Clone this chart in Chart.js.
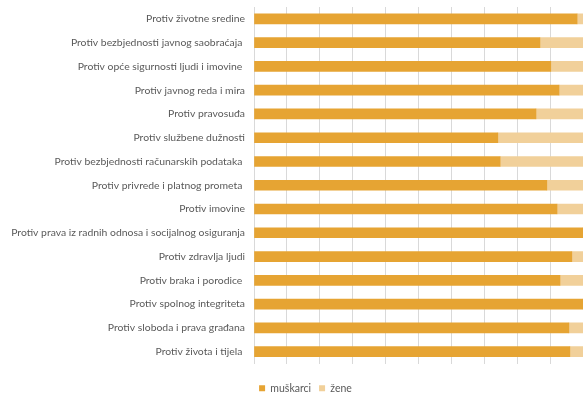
<!DOCTYPE html>
<html>
<head>
<meta charset="utf-8">
<script src="https://cdn.jsdelivr.net/npm/chart.js@4"></script>
<style>
    html, body { margin: 0; padding: 0; background: #fff; }
    #wrap { width: 583px; height: 393px; }
</style>
</head>
<body>
<div id="wrap"><canvas id="myChart"></canvas></div>
<script>
const categories = [
    'Protiv životne sredine',
    'Protiv bezbjednosti javnog saobraćaja ',
    'Protiv opće sigurnosti ljudi i imovine ',
    'Protiv javnog reda i mira',
    'Protiv pravosuđa',
    'Protiv službene dužnosti',
    'Protiv bezbjednosti računarskih podataka ',
    'Protiv privrede i platnog prometa ',
    'Protiv imovine',
    'Protiv prava iz radnih odnosa i socijalnog osiguranja',
    'Protiv zdravlja ljudi',
    'Protiv braka i porodice ',
    'Protiv spolnog integriteta',
    'Protiv sloboda i prava građana',
    'Protiv života i tijela '
];
const muskarci = [98.2, 86.9, 90.2, 92.7, 85.7, 74.1, 74.8, 89.0, 92.1, 100, 96.6, 93.0, 100, 95.7, 96.0];
const zene = muskarci.map(v => +(100 - v).toFixed(1)); // udio žena = ostatak do 100%

const data = {
    labels: categories,
    datasets: [
        {
            label: 'muškarci',
            data: muskarci,
            backgroundColor: '#E6A433',
            barThickness: 10
        },
        {
            label: 'žene',
            data: zene,
            backgroundColor: '#F1D09A',
            barThickness: 10
        }
    ]
};

// legenda je u originalu malo desno od sredine
const pomakLegende = {
    id: 'pomakLegende',
    afterLayout(chart) {
        chart.legend.left += 14;
        chart.legend.right += 14;
    }
};

const config = {
    type: 'bar',
    data: data,
    plugins: [pomakLegende],
    options: {
        indexAxis: 'y',
        responsive: true,
        maintainAspectRatio: false,
        animation: false,
        layout: {
            padding: { top: 7, right: 0, left: 0, bottom: -10.5 }
        },
        plugins: {
            legend: {
                position: 'bottom',
                labels: {
                    boxWidth: 6,
                    boxHeight: 6,
                    padding: 8,
                    color: '#595959',
                    font: { family: 'Lato', size: 10.5 }
                }
            },
            tooltip: { enabled: false }
        },
        scales: {
            x: {
                stacked: true,
                min: 0,
                max: 100,
                afterFit: function (scale) { scale.height = 11.5; },
                ticks: { display: false, stepSize: 10 },
                grid: { color: '#d9d9d9', drawTicks: false },
                border: { display: false }
            },
            y: {
                stacked: true,
                afterFit: function (scale) {
                    scale.width = 254;
                    scale.paddingTop = 0;
                    scale.paddingBottom = 0;
                },
                ticks: {
                    color: '#595959',
                    padding: 9,
                    font: { family: 'Lato', size: 10.4 }
                },
                grid: { display: false, drawTicks: false },
                border: { display: true, color: '#d9d9d9' }
            }
        }
    }
};

const myChart = new Chart(document.getElementById('myChart'), config);
</script>
</body>
</html>
